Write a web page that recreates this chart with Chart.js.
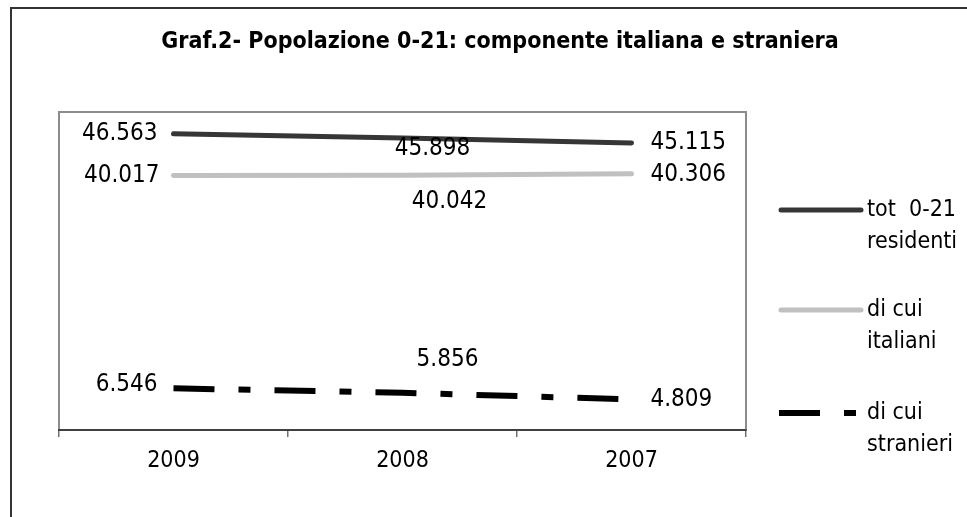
<!DOCTYPE html>
<html>
<head>
<meta charset="utf-8">
<script src="https://cdn.jsdelivr.net/npm/chart.js@4.4.1/dist/chart.umd.min.js"></script>
<style>
html,body{margin:0;padding:0;background:#fff;}
#wrap{width:967px;height:517px;position:relative;}
</style>
</head>
<body>
<div id="wrap"><canvas id="c" width="967" height="517"></canvas></div>
<script>
const categories = ['2009', '2008', '2007'];
const totResidenti = [46563, 45898, 45115];
const italiani = [40017, 40042, 40306];
const stranieri = [6546, 5856, 4809];
const seriesNames = [['tot  0-21', 'residenti'], ['di cui', 'italiani'], ['di cui', 'stranieri']];
const titleText = 'Graf.2- Popolazione 0-21: componente italiana e straniera';

// label placement relative to each point: [dx, dy, align]
const labelPlacement = [
  [[-16, 0, 'right'], [30, 11, 'center'], [19, 0, 'left']],
  [[-14, 0, 'right'], [47, 26, 'center'], [19, 1, 'left']],
  [[-16, -4, 'right'], [45, -33, 'center'], [19, 0, 'left']]
];

const FONT = '"DejaVu Sans Condensed", "DejaVu Sans", Verdana, sans-serif';
const fmt = v => v.toLocaleString('it-IT');

const framePlugin = {
  id: 'frame',
  beforeDraw(chart) {
    const ctx = chart.ctx, a = chart.chartArea;
    ctx.save();
    ctx.fillStyle = '#fff';
    ctx.fillRect(0, 0, chart.width, chart.height);
    ctx.strokeStyle = '#333';
    ctx.lineWidth = 2;
    ctx.beginPath();
    ctx.moveTo(11, chart.height + 2);
    ctx.lineTo(11, 8);
    ctx.lineTo(chart.width + 2, 8);
    ctx.stroke();
    ctx.strokeStyle = '#8c8c8c';
    ctx.lineWidth = 2;
    ctx.strokeRect(a.left, a.top, a.right - a.left, a.bottom - a.top);
    ctx.fillStyle = '#000';
    ctx.font = 'bold 23px ' + FONT;
    ctx.textAlign = 'center';
    ctx.textBaseline = 'middle';
    ctx.fillText(titleText, 500, 42);
    ctx.restore();
  },
  afterDatasetsDraw(chart) {
    const ctx = chart.ctx;
    ctx.save();
    ctx.font = '24px ' + FONT;
    ctx.fillStyle = '#000';
    ctx.textBaseline = 'middle';
    chart.data.datasets.forEach((ds, i) => {
      const meta = chart.getDatasetMeta(i);
      meta.data.forEach((pt, j) => {
        const p = labelPlacement[i][j];
        ctx.textAlign = p[2];
        ctx.fillText(fmt(ds.data[j]), pt.x + p[0], pt.y + p[1]);
      });
    });
    // legend
    ctx.font = '23px ' + FONT;
    const rows = [210, 310, 413];
    chart.data.datasets.forEach((ds, i) => {
      const y = rows[i];
      ctx.save();
      ctx.strokeStyle = ds.borderColor;
      ctx.lineWidth = ds.borderWidth;
      ctx.lineCap = ds.borderCapStyle;
      ctx.setLineDash(ds.borderDash || []);
      ctx.beginPath();
      if (ds.borderCapStyle === 'round') {
        ctx.moveTo(781, y); ctx.lineTo(861, y);
      } else {
        ctx.moveTo(779, y); ctx.lineTo(858, y);
      }
      ctx.stroke();
      ctx.restore();
      ctx.textAlign = 'left';
      seriesNames[i].forEach((t, k) => ctx.fillText(t, 867, y + k * 32));
    });
    ctx.restore();
  }
};

new Chart(document.getElementById('c'), {
  type: 'line',
  data: {
    labels: categories,
    datasets: [
      { label: 'tot 0-21 residenti', data: totResidenti, borderColor: '#363636', borderWidth: 5, borderCapStyle: 'round', pointRadius: 0, tension: 0 },
      { label: 'di cui italiani', data: italiani, borderColor: '#c0c0c0', borderWidth: 5, borderCapStyle: 'round', pointRadius: 0, tension: 0 },
      { label: 'di cui stranieri', data: stranieri, borderColor: '#000', borderWidth: 6, borderCapStyle: 'butt', borderDash: [41, 24, 12, 24], pointRadius: 0, tension: 0 }
    ]
  },
  options: {
    responsive: false,
    animation: false,
    devicePixelRatio: 1,
    layout: { padding: { left: 59, right: 221, top: 112, bottom: 0 } },
    plugins: { legend: { display: false }, title: { display: false }, tooltip: { enabled: false } },
    scales: {
      y: { display: false, min: 0, max: 50000 },
      x: {
        offset: true,
        grid: { offset: true, drawOnChartArea: false, drawTicks: true, tickLength: 7, color: '#707070', lineWidth: 1.5 },
        border: { display: true, color: '#404040', width: 2 },
        ticks: { color: '#000', font: { family: FONT, size: 23 }, padding: 10, maxRotation: 0 },
        afterFit: s => { s.height = 87; }
      }
    }
  },
  plugins: [framePlugin]
});
</script>
</body>
</html>
